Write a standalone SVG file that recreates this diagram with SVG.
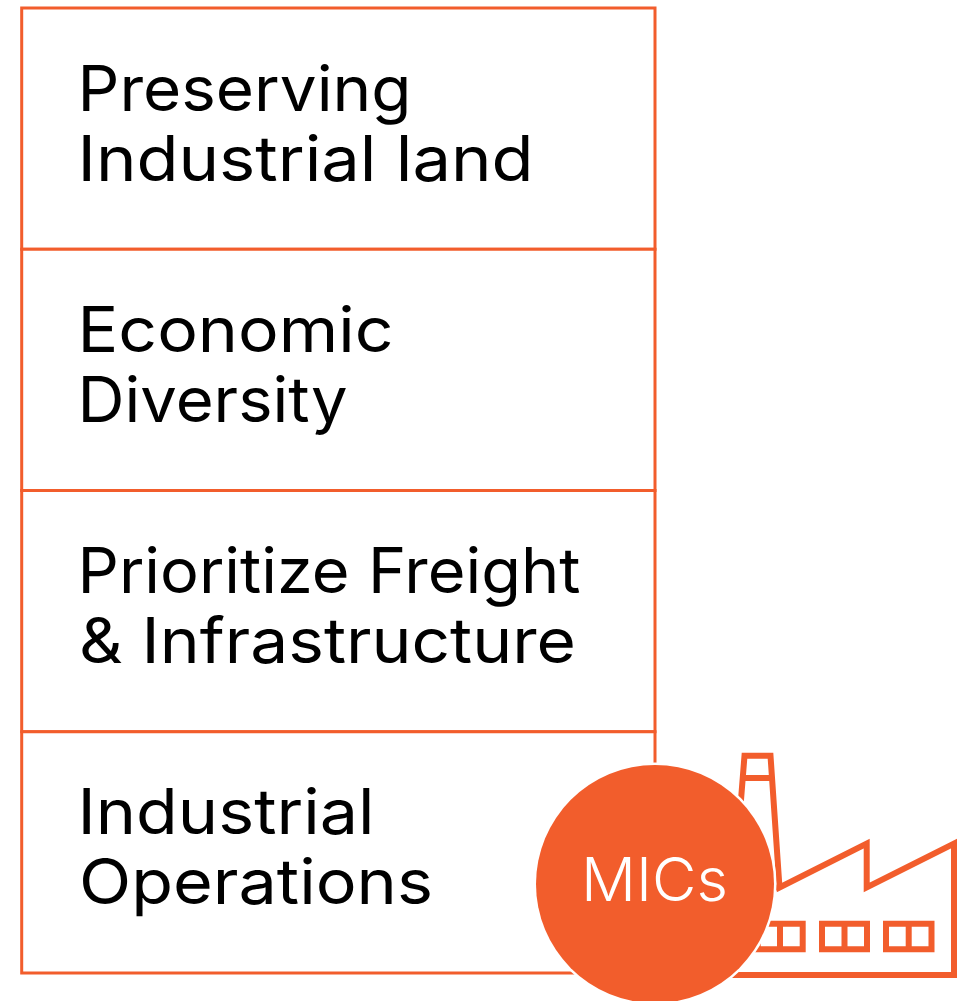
<svg xmlns="http://www.w3.org/2000/svg" width="961" height="1001" viewBox="0 0 961 1001">
<style>
.box{fill:#fff;stroke:#f25d2c;stroke-width:3}
.t{font-family:"Inter","Liberation Sans",sans-serif;font-size:63px;fill:#000}
.f{fill:none;stroke:#f25d2c;stroke-width:6}
</style>
<rect width="961" height="1001" fill="#fff"/>
<g id="box1"><rect class="box" x="21.700" y="8" width="633.300" height="241.250"/>
<text class="t" x="77.500" y="111" textLength="334" lengthAdjust="spacingAndGlyphs">Preserving</text>
<text class="t" x="77.500" y="181" textLength="456" lengthAdjust="spacingAndGlyphs">Industrial land</text></g>
<g id="box2"><rect class="box" x="21.700" y="249.250" width="633.300" height="241.250"/>
<text class="t" x="77.500" y="352" textLength="316" lengthAdjust="spacingAndGlyphs">Economic</text>
<text class="t" x="77.500" y="422" textLength="270" lengthAdjust="spacingAndGlyphs">Diversity</text></g>
<g id="box3"><rect class="box" x="21.700" y="490.500" width="633.300" height="241.250"/>
<text class="t" x="77.500" y="593" textLength="503" lengthAdjust="spacingAndGlyphs">Prioritize Freight</text>
<text class="t" x="79" y="663" textLength="497" lengthAdjust="spacingAndGlyphs">&amp; Infrastructure</text></g>
<g id="box4"><rect class="box" x="21.700" y="731.750" width="633.300" height="241.250"/>
<text class="t" x="77.500" y="834" textLength="297" lengthAdjust="spacingAndGlyphs">Industrial</text>
<text class="t" x="79" y="904" textLength="354" lengthAdjust="spacingAndGlyphs">Operations</text></g>
<g id="factory">
<path class="f" d="M736 890 L741 800 L744.500 755.700 H770.500 L779.500 887.500 L866.700 843.500 V887.500 L954 843.500 V975 H725 M779.500 887.500 H735 M744 778 H772"/>
<path class="f" d="M757.700 923.700H802.700V949.300H757.700ZM780 923.700V949.300M822 923.700H867V949.300H822ZM844.500 923.700V949.300M886 923.700H931.500V949.300H886ZM908.700 923.700V949.300"/>
</g>
<g id="mics">
<circle cx="655" cy="884" r="119" fill="#f25d2c" stroke="#fff" stroke-width="5" paint-order="stroke"/>
<text x="581" y="901" textLength="147" lengthAdjust="spacingAndGlyphs" font-family="Inter,'Liberation Sans',sans-serif" font-size="60" font-weight="300" fill="#fff">MICs</text>
</g>
<g id="connectors"/>
</svg>
